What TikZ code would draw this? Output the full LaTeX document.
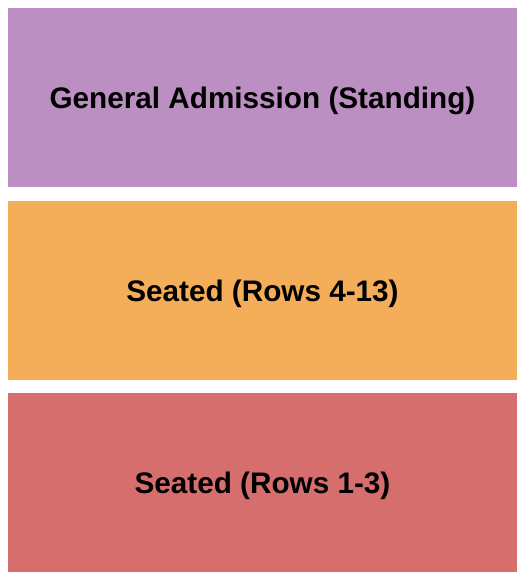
\documentclass[tikz,border=0pt]{standalone}
\usepackage{fontspec}
\setmainfont{Liberation Sans}
\definecolor{gapurple}{RGB}{188,143,194}
\definecolor{seatorange}{RGB}{244,174,90}
\definecolor{seatred}{RGB}{214,110,110}
\begin{document}
\begin{tikzpicture}[x=1pt, y=-1pt,
  section/.style={rectangle, inner sep=0pt, text depth=0pt, minimum width=509pt, minimum height=179pt,
    font=\fontsize{29.7}{34}\selectfont\bfseries}]
  \useasboundingbox (0, 0) rectangle (525, 580);
  % Nodes
  \node (general) [section, fill=gapurple] at (262.5, 97.5) {General Admission (Standing)};
  \node (rows-four) [section, fill=seatorange] at (262.5, 290.5) {Seated (Rows 4-13)};
  \node (rows-one) [section, fill=seatred] at (262.5, 482.5) {Seated (Rows 1-3)};
\end{tikzpicture}
\end{document}
